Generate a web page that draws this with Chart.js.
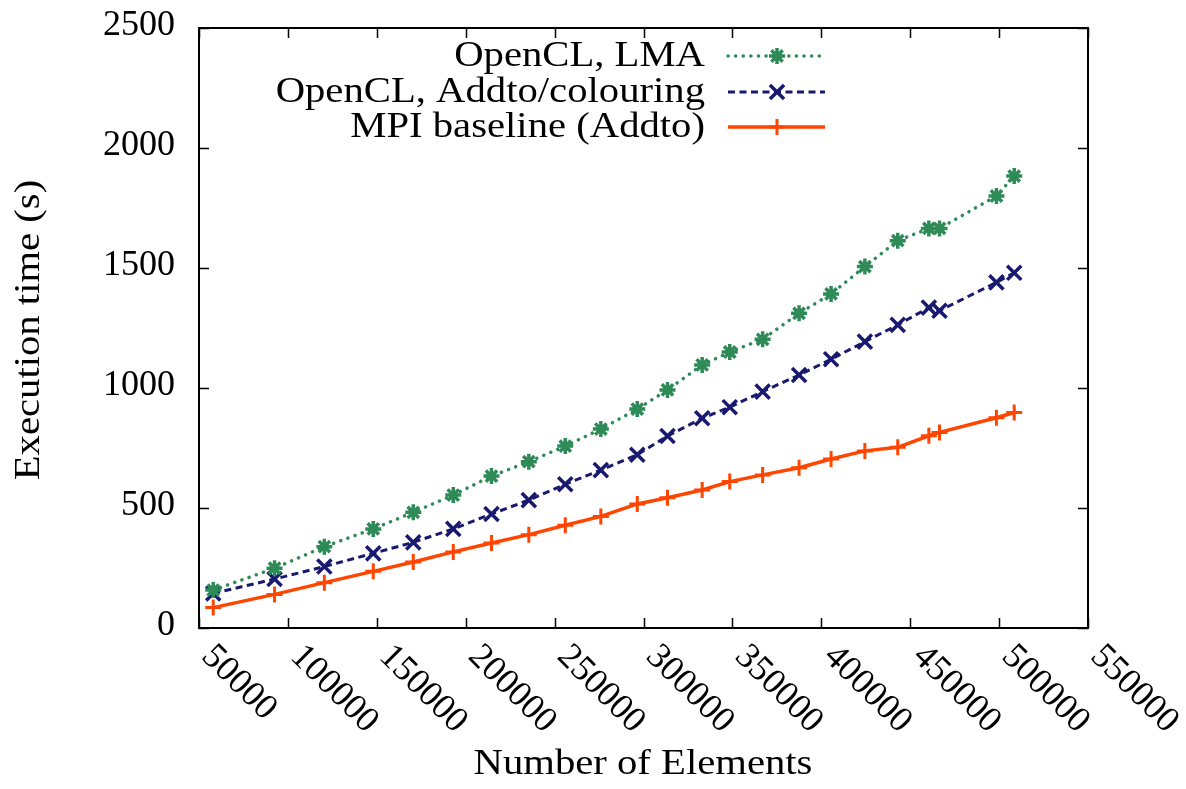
<!DOCTYPE html>
<html>
<head>
<meta charset="utf-8">
<title>Execution time vs number of elements</title>
<script src="https://cdn.jsdelivr.net/npm/chart.js@4.4.0/dist/chart.umd.min.js"></script>
<style>
  html, body { margin: 0; padding: 0; background: #fff; }
  #wrap { width: 1186px; height: 789px; position: relative; }
</style>
</head>
<body>
<div id="wrap"><canvas id="timingChart"></canvas></div>
<script>
// ---- measured runs ----
const elements = [58000, 92500, 120500, 148000, 170500, 193000, 214500, 235500, 256000, 276000, 296500,
                  313500, 333000, 348500, 367000, 387500, 405500, 424500, 443000, 460500, 466500, 498500, 508500];
const lmaTimes = [158, 249, 339, 413, 482, 554, 633, 693, 758, 829, 912,
                  992, 1096, 1150, 1203, 1311, 1392, 1506, 1614, 1665, 1665, 1800, 1883];
const addtoTimes = [144, 204, 256, 311, 357, 413, 475, 533, 599, 658, 722,
                    800, 874, 920, 985, 1054, 1120, 1193, 1263, 1335, 1322, 1440, 1480];
const mpiTimes = [85, 140, 189, 236, 275, 317, 354, 389, 428, 465, 517,
                  543, 575, 610, 638, 668, 704, 738, 753, 801, 815, 876, 898];

const seriesNames = ['OpenCL, LMA', 'OpenCL, Addto/colouring', 'MPI baseline (Addto)'];
const xTicks = [50000, 100000, 150000, 200000, 250000, 300000, 350000, 400000, 450000, 500000, 550000];
const yTicks = [0, 500, 1000, 1500, 2000, 2500];

const FONT = '36px "Liberation Serif", "DejaVu Serif", serif';
const WIDE = 1.13;   // letters a bit wider, like TeX roman

function toPoints(ys) {
    return elements.map((x, i) => ({ x: x, y: ys[i] }));
}

// draw text stretched horizontally, anchored like fillText with the given align
function wideText(ctx, text, x, y, align) {
    ctx.save();
    ctx.translate(x, y);
    ctx.scale(WIDE, 1);
    ctx.textAlign = align;
    ctx.fillText(text, 0, 0);
    ctx.restore();
}

// frame, inward ticks, tick labels, axis titles and the key
const gnuplotLook = {
    id: 'gnuplotLook',
    afterDraw(chart) {
        const ctx = chart.ctx;
        const area = chart.chartArea;
        const xs = chart.scales.x;
        const ys = chart.scales.y;
        const tickLen = 10;

        ctx.save();
        ctx.strokeStyle = '#000';
        ctx.lineWidth = 1.5;
        ctx.beginPath();
        xTicks.forEach(v => {
            const px = Math.round(xs.getPixelForValue(v)) + 0.5;
            ctx.moveTo(px, area.bottom); ctx.lineTo(px, area.bottom - tickLen);
            ctx.moveTo(px, area.top); ctx.lineTo(px, area.top + tickLen);
        });
        yTicks.forEach(v => {
            const py = Math.round(ys.getPixelForValue(v)) + 0.5;
            ctx.moveTo(area.left, py); ctx.lineTo(area.left + tickLen, py);
            ctx.moveTo(area.right, py); ctx.lineTo(area.right - tickLen, py);
        });
        ctx.stroke();

        ctx.lineWidth = 2;
        ctx.strokeRect(area.left, area.top, area.right - area.left, area.bottom - area.top);

        ctx.fillStyle = '#000';
        ctx.font = FONT;

        // y tick labels
        ctx.textAlign = 'right';
        ctx.textBaseline = 'middle';
        yTicks.forEach(v => {
            ctx.fillText(String(v), area.left - 24, ys.getPixelForValue(v) - 2);
        });

        // x tick labels, slanted down to the right
        xTicks.forEach(v => {
            const px = xs.getPixelForValue(v);
            ctx.save();
            ctx.translate(px + 8, area.bottom + 23);
            ctx.rotate(Math.PI / 4);
            ctx.textAlign = 'left';
            ctx.textBaseline = 'middle';
            ctx.fillText(String(v), 0, 0);
            ctx.restore();
        });

        // axis titles
        ctx.textBaseline = 'middle';
        wideText(ctx, 'Number of Elements', 643, 765, 'center');
        ctx.save();
        ctx.translate(30, (area.top + area.bottom) / 2 + 2);
        ctx.rotate(-Math.PI / 2);
        wideText(ctx, 'Execution time (s)', 0, 0, 'center');
        ctx.restore();

        // key in the top right corner
        const rowY = [56, 92, 127];
        chart.data.datasets.forEach((ds, i) => {
            const y = rowY[i];
            ctx.fillStyle = '#000';
            ctx.textBaseline = 'alphabetic';
            wideText(ctx, seriesNames[i], 705, y + 10, 'right');

            ctx.save();
            ctx.strokeStyle = ds.borderColor;
            ctx.lineWidth = ds.borderWidth;
            ctx.lineCap = ds.borderCapStyle || 'butt';
            ctx.setLineDash(ds.borderDash || []);
            ctx.beginPath();
            ctx.moveTo(728, y);
            ctx.lineTo(825, y);
            ctx.stroke();
            ctx.setLineDash([]);
            ctx.lineCap = 'butt';
            ctx.lineWidth = ds.pointBorderWidth;
            ctx.fillStyle = ds.borderColor;
            Chart.helpers.drawPoint(ctx, {
                pointStyle: ds.pointStyle,
                radius: ds.pointRadius,
                rotation: 0,
                borderWidth: ds.pointBorderWidth
            }, 777, y);
            ctx.restore();
        });
        ctx.restore();
    }
};

window.onload = () => {
    const ctx = document.getElementById('timingChart').getContext('2d');

    new Chart(ctx, {
        type: 'line',
        data: {
            datasets: [{
                label: seriesNames[0],
                data: toPoints(lmaTimes),
                borderColor: '#2e8b57',
                borderWidth: 3.5,
                borderDash: [0.1, 7.5],
                borderCapStyle: 'round',
                pointStyle: 'star',
                pointRadius: 8,
                pointBorderWidth: 3.5,
                pointBorderColor: '#2e8b57',
                pointBackgroundColor: '#2e8b57',
                fill: false,
                tension: 0
            }, {
                label: seriesNames[1],
                data: toPoints(addtoTimes),
                borderColor: '#191970',
                borderWidth: 3,
                borderDash: [7, 4.5],
                pointStyle: 'crossRot',
                pointRadius: 10,
                pointBorderWidth: 3.5,
                pointBorderColor: '#191970',
                pointBackgroundColor: '#191970',
                fill: false,
                tension: 0
            }, {
                label: seriesNames[2],
                data: toPoints(mpiTimes),
                borderColor: '#ff4500',
                borderWidth: 3.5,
                pointStyle: 'cross',
                pointRadius: 8,
                pointBorderWidth: 3,
                pointBorderColor: '#ff4500',
                pointBackgroundColor: '#ff4500',
                fill: false,
                tension: 0
            }]
        },
        options: {
            responsive: true,
            maintainAspectRatio: false,
            animation: false,
            layout: { padding: { left: 199, right: 98, top: 28, bottom: 161 } },
            plugins: {
                legend: { display: false },
                tooltip: { enabled: false }
            },
            scales: {
                x: { type: 'linear', min: 50000, max: 550000, display: false },
                y: { type: 'linear', min: 0, max: 2500, display: false }
            }
        },
        plugins: [gnuplotLook]
    });
};
</script>
</body>
</html>
